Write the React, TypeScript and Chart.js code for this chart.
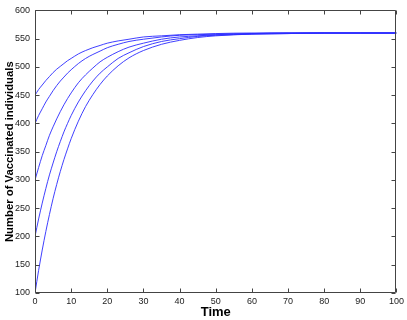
import React, { useEffect, useRef } from "react";
import { Chart, registerables } from "chart.js";

Chart.register(...registerables);

const times = [0, 1, 2, 3, 4, 5, 6, 7, 8, 9, 10, 12, 14, 16, 18, 20, 23, 26, 30, 35, 40, 45, 50, 60, 70, 80, 90, 100];
const seriesFrom100 = [100, 140, 176, 209, 239, 267, 292, 315, 336, 355, 373, 404, 430, 451, 469, 484, 502, 516, 529, 540, 547, 552, 555, 558, 559, 560, 560, 560];
const seriesFrom200 = [200, 231, 259, 285, 309, 330, 350, 368, 385, 400, 414, 438, 458, 475, 489, 500, 515, 525, 536, 545, 550, 554, 556, 558, 559, 560, 560, 560];
const seriesFrom300 = [300, 322, 343, 361, 379, 394, 408, 421, 433, 444, 454, 472, 486, 498, 509, 517, 527, 535, 542, 549, 553, 555, 557, 559, 560, 560, 560, 560];
const seriesFrom400 = [400, 414, 426, 438, 448, 458, 467, 475, 482, 489, 495, 506, 515, 522, 528, 534, 540, 545, 549, 553, 556, 557, 558, 559, 560, 560, 560, 560];
const seriesFrom450 = [450, 460, 468, 476, 483, 490, 496, 501, 506, 511, 515, 523, 529, 534, 538, 542, 546, 549, 553, 555, 557, 558, 559, 560, 560, 560, 560, 560];
const allSeries = [seriesFrom100, seriesFrom200, seriesFrom300, seriesFrom400, seriesFrom450];

const xTitle = "Time";
const yTitle = "Number of Vaccinated individuals";

const boxPlugin = {
  id: "matlabBox",
  afterDraw(chart: any) {
    const { ctx, chartArea } = chart;
    const { left, right, top, bottom } = chartArea;
    ctx.save();
    ctx.strokeStyle = "#444";
    ctx.lineWidth = 1;
    const L = Math.round(left) + 0.5;
    const R = Math.round(right) - 0.5;
    const T = Math.round(top) + 0.5;
    const B = Math.round(bottom) - 0.5;
    ctx.beginPath();
    ctx.rect(L, T, R - L, B - T);
    const tl = 4;
    const xs = chart.scales.x;
    xs.ticks.forEach((t: any) => {
      const p = Math.round(xs.getPixelForValue(t.value)) + 0.5;
      ctx.moveTo(p, B);
      ctx.lineTo(p, B - tl);
      ctx.moveTo(p, T);
      ctx.lineTo(p, T + tl);
    });
    const ys = chart.scales.y;
    ys.ticks.forEach((t: any) => {
      const p = Math.round(ys.getPixelForValue(t.value)) + 0.5;
      ctx.moveTo(L, p);
      ctx.lineTo(L + tl, p);
      ctx.moveTo(R, p);
      ctx.lineTo(R - tl, p);
    });
    ctx.stroke();
    ctx.restore();
  },
};

export default function App() {
  const ref = useRef<HTMLCanvasElement>(null);
  useEffect(() => {
    document.body.style.margin = "0";
    const chart = new Chart(ref.current!, {
      type: "line",
      data: {
        datasets: allSeries.map((s) => ({
          data: s.map((v, i) => ({ x: times[i], y: v })),
          borderColor: "#2a2aff",
          borderWidth: 0.9,
          pointRadius: 0,
          fill: false,
          cubicInterpolationMode: "monotone" as const,
        })),
      },
      options: {
        responsive: false,
        animation: false,
        layout: { padding: { left: 0, right: 10, top: 8, bottom: 0 } },
        plugins: { legend: { display: false }, tooltip: { enabled: false } },
        scales: {
          x: {
            type: "linear",
            min: 0,
            max: 100,
            ticks: {
              stepSize: 10,
              padding: 3,
              color: "#222",
              font: { family: "Liberation Sans, Arial, sans-serif", size: 9 },
              maxRotation: 0,
            },
            grid: { display: false, drawTicks: false },
            border: { display: false },
            title: {
              display: true,
              text: xTitle,
              color: "#000",
              padding: 0,
              font: { family: "Liberation Sans, Arial, sans-serif", size: 13, weight: "bold" },
            },
            afterFit: (s: any) => {
              s.height = 27;
            },
          },
          y: {
            type: "linear",
            min: 100,
            max: 600,
            ticks: {
              stepSize: 50,
              padding: 5,
              color: "#222",
              font: { family: "Liberation Sans, Arial, sans-serif", size: 9 },
            },
            grid: { display: false, drawTicks: false },
            border: { display: false },
            title: {
              display: true,
              text: yTitle,
              color: "#000",
              padding: { top: 3, bottom: 0 },
              font: { family: "Liberation Sans, Arial, sans-serif", size: 11.3, weight: "bold" },
            },
            afterFit: (s: any) => {
              s.width = 35;
            },
          },
        },
      },
      plugins: [boxPlugin],
    } as any);
    return () => chart.destroy();
  }, []);
  return (
    <div style={{ position: "absolute", left: 0, top: 0, width: 407, height: 320, background: "#fff" }}>
      <canvas ref={ref} width={407} height={320} />
    </div>
  );
}
